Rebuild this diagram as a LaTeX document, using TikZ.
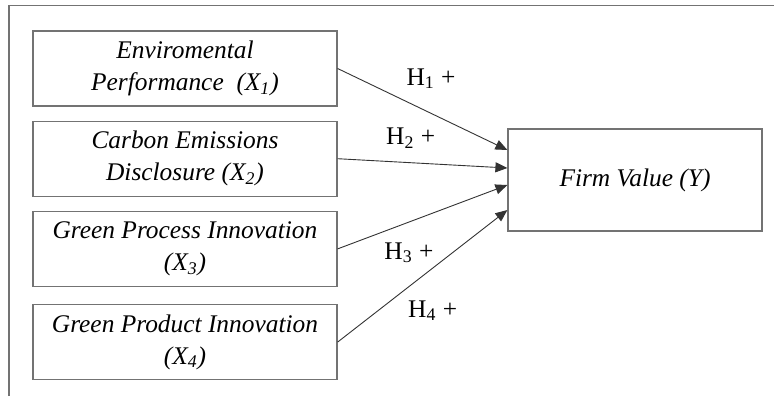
\documentclass[tikz,border=0pt]{standalone}
\usepackage{fontspec}
\setmainfont{Liberation Serif}
\usetikzlibrary{arrows.meta,positioning,calc}
\colorlet{framegray}{black!55}

\begin{document}
\begin{tikzpicture}[
  x=1pt,y=1pt,
  font=\fontsize{12.7}{16}\selectfont,
  varbox/.style={draw=framegray,line width=0.6pt,align=center,minimum width=152pt,minimum height=37.5pt,inner sep=2pt,font=\fontsize{12.7}{16}\selectfont\itshape},
  arrow/.style={-{Triangle[length=6pt,width=5pt]},draw=black!80,line width=0.45pt},
  hlabel/.style={inner sep=0pt,font=\fontsize{12.7}{16}\selectfont}
]
\useasboundingbox (0,0) rectangle (387,-198);
% page frame
\draw[framegray,line width=0.7pt] (4.5,-198) -- (4.5,-2.75) -- (387,-2.75);

\node[varbox] at (92.5,-34.25) (envperf) {Enviromental\\Performance\ \ (X\textsubscript{1})};
\node[varbox,below=7pt of envperf] (carbon) {Carbon Emissions\\Disclosure (X\textsubscript{2})};
\node[varbox,below=7pt of carbon] (process) {Green Process Innovation\\(X\textsubscript{3})};
\node[varbox,below=8.5pt of process] (product) {Green Product Innovation\\(X\textsubscript{4})};
\node[varbox,minimum width=127pt,minimum height=51pt] at (317.5,-90) (firm) {Firm Value (Y)};

\coordinate (in1) at ($(firm.west)+(0,15)$);
\coordinate (in2) at ($(firm.west)+(0,6)$);
\coordinate (in3) at ($(firm.west)+(0,-2.5)$);
\coordinate (in4) at ($(firm.west)+(0,-15)$);

\draw[arrow] (envperf.east) -- node[hlabel,pos=.55,above=12pt] {H\textsubscript{1} +} (in1);
\draw[arrow] (carbon.east) -- node[hlabel,pos=.43,above=7pt] {H\textsubscript{2} +} (in2);
\draw[arrow] (process.east) -- node[hlabel,pos=.42,below=10pt] {H\textsubscript{3} +} (in3);
\draw[arrow] (product.east) -- node[hlabel,pos=.56,below=16pt] {H\textsubscript{4} +} (in4);
\end{tikzpicture}
\end{document}
